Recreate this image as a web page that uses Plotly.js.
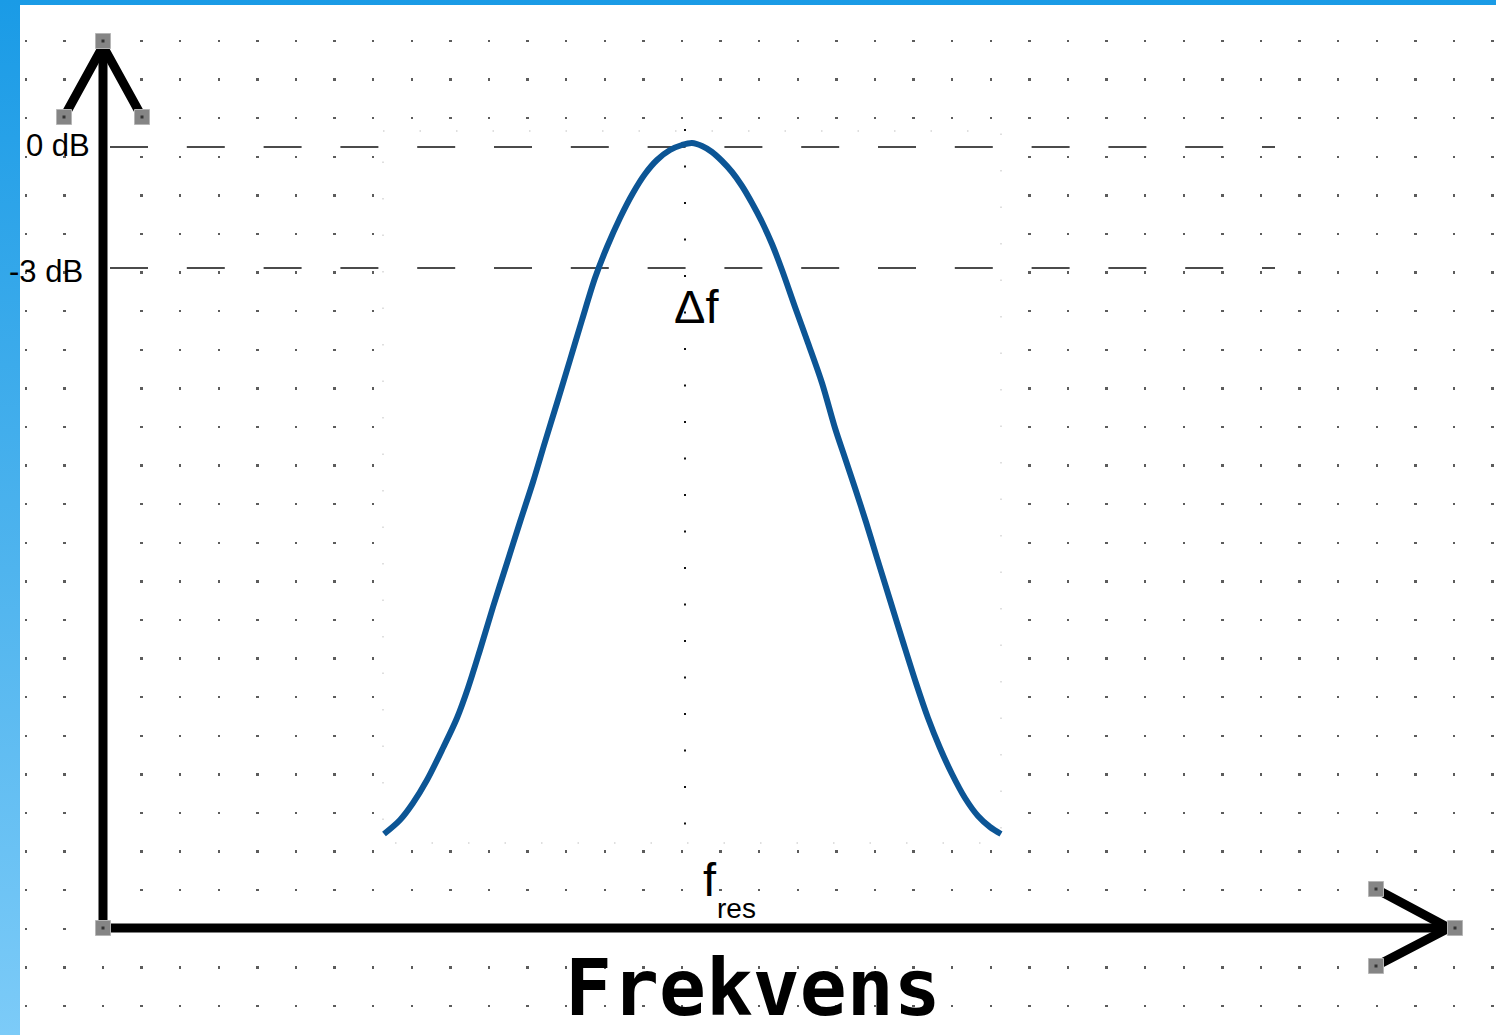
<!DOCTYPE html>
<html>
<head>
<meta charset="utf-8">
<script src="https://cdn.plot.ly/plotly-3.0.1.min.js"></script>
<style>
  html, body { margin: 0; padding: 0; }
  body {
    width: 1496px; height: 1035px; overflow: hidden;
    background: linear-gradient(to bottom, #1a9be6 0%, #4fb4ee 55%, #7ccbf8 100%);
    position: relative;
  }
  #chart { position: absolute; left: 0; top: 0; width: 1496px; height: 1035px; }
</style>
</head>
<body>
<div id="chart"></div>
<script>
// Resonance curve (page-pixel coordinates of the drawing)
const curveFreq = [384, 400, 413, 427, 443, 457, 468, 480, 493, 507, 520, 533, 545, 557, 570, 582, 595, 607, 620, 633, 645, 657, 670, 682, 692,
                   702, 712, 722, 732, 742, 752, 762, 772, 782, 795, 808, 822, 835, 845, 855, 866, 877, 890, 903, 916, 928, 940, 952, 965, 978, 990, 1001];
const curveLevel = [834, 820, 803, 780, 748, 718, 688, 650, 607, 563, 522, 482, 442, 403, 360, 320, 278, 247, 218, 193, 174, 160, 150, 145, 143,
                    146, 152, 161, 172, 186, 203, 222, 244, 270, 307, 343, 383, 428, 458, 488, 522, 558, 600, 642, 683, 718, 748, 774, 798, 816, 827, 834];

// Diagram node handles
const handleX = [103, 64, 142, 103, 1376, 1455, 1376];
const handleY = [41, 117, 117, 928, 889, 928, 966];

// Level marks
const levelLabels = ["0 dB", "-3 dB"];
const levelY = [147, 268];
const axisLabel = "Frekvens";

const shapes = [
  // white image backdrop of the curve
  {type: 'rect', layer: 'between', xref: 'x', yref: 'y', x0: 383, x1: 1001, y0: 131, y1: 843,
   fillcolor: '#ffffff', line: {color: 'rgba(140,140,140,0.55)', width: 1, dash: '1.5px,35px'}},
  // centre dotted line
  {type: 'line', layer: 'between', xref: 'x', yref: 'y', x0: 685, x1: 685, y0: 129, y1: 843,
   line: {color: '#111', width: 2, dash: '2px,34.5px'}},
  // axes
  {type: 'line', layer: 'between', xref: 'x', yref: 'y', x0: 103, x1: 103, y0: 928, y1: 46,
   line: {color: '#000', width: 9}},
  {type: 'line', layer: 'between', xref: 'x', yref: 'y', x0: 103, x1: 1448, y0: 928, y1: 928,
   line: {color: '#000', width: 9}},
  {type: 'path', layer: 'between', xref: 'x', yref: 'y', path: 'M64,117 L103,46 L142,117',
   line: {color: '#000', width: 9}},
  {type: 'path', layer: 'between', xref: 'x', yref: 'y', path: 'M1376,889 L1449,928 L1376,966',
   line: {color: '#000', width: 9}}
];
levelY.forEach(function (yv) {
  shapes.push({type: 'line', layer: 'between', xref: 'x', yref: 'y', x0: 110, x1: 1275, y0: yv, y1: yv,
    line: {color: '#111', width: 1.5, dash: '38px,38.8px'}});
});

const textFont = 'Liberation Sans, Arial, sans-serif';
const annotations = [
  {x: 24, y: 145, text: levelLabels[0], xanchor: 'left', yanchor: 'middle', showarrow: false,
   font: {family: textFont, size: 31, color: '#000'}},
  {x: 85, y: 271, text: levelLabels[1], xanchor: 'right', yanchor: 'middle', showarrow: false,
   font: {family: textFont, size: 31, color: '#000'}},
  {x: 696, y: 306, text: 'Δf', xanchor: 'center', yanchor: 'middle', showarrow: false,
   font: {family: textFont, size: 47, color: '#000'}},
  {x: 710, y: 879, text: 'f', xanchor: 'center', yanchor: 'middle', showarrow: false,
   font: {family: textFont, size: 47, color: '#000'}},
  {x: 736, y: 908, text: 'res', xanchor: 'center', yanchor: 'middle', showarrow: false,
   font: {family: textFont, size: 28, color: '#000'}},
  {x: 753, y: 988, text: axisLabel, xanchor: 'center', yanchor: 'middle', showarrow: false,
   font: {family: 'DejaVu Sans Mono, monospace', size: 78, color: '#000', weight: 'bold'}}
];

const traces = [
  {x: curveFreq, y: curveLevel, type: 'scatter', mode: 'lines',
   line: {color: '#0c5595', width: 6, shape: 'spline', smoothing: 0.9}, hoverinfo: 'skip'},
  {x: handleX, y: handleY, type: 'scatter', mode: 'markers', hoverinfo: 'skip',
   marker: {symbol: 'square', size: 15, color: '#858585', line: {color: '#b5b5b5', width: 1}}},
  {x: handleX, y: handleY, type: 'scatter', mode: 'markers', hoverinfo: 'skip',
   marker: {symbol: 'square', size: 3, color: '#333'}}
];

const layout = {
  width: 1496, height: 1035,
  margin: {l: 20, r: 0, t: 5, b: 0, pad: 0},
  paper_bgcolor: 'rgba(0,0,0,0)', plot_bgcolor: '#ffffff',
  showlegend: false,
  xaxis: {range: [20, 1496], showgrid: false, zeroline: false, showticklabels: false, ticks: '', showline: false, fixedrange: true},
  yaxis: {range: [1035, 5], showgrid: true, tick0: 41, dtick: 38.6, gridcolor: '#5c5c5c', gridwidth: 2.5,
          griddash: '0px,4.55px,2.5px,31.55px', zeroline: false, showticklabels: false, ticks: '', showline: false, fixedrange: true},
  shapes: shapes,
  annotations: annotations
};

Plotly.newPlot('chart', traces, layout, {staticPlot: true, displayModeBar: false});
</script>
</body>
</html>
